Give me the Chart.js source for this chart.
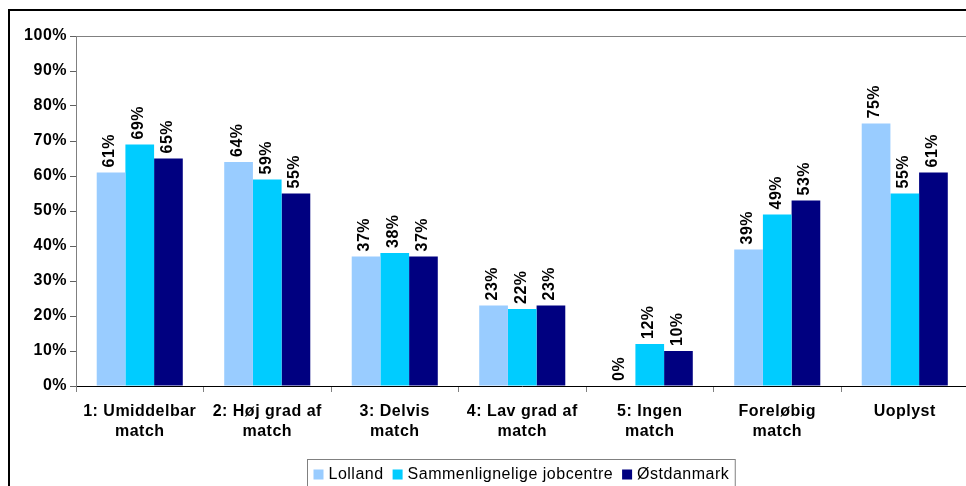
<!DOCTYPE html>
<html>
<head>
<meta charset="utf-8">
<script src="https://cdn.jsdelivr.net/npm/chart.js@4/dist/chart.umd.min.js"></script>
<style>
    html, body { margin: 0; padding: 0; background: #fff; overflow: hidden; }
    #wrap { position: absolute; left: 0; top: 0; width: 990px; height: 500px; }
</style>
</head>
<body>
<div id="wrap"><canvas id="matchChart" width="990" height="500"></canvas></div>
<script>
const categories = [
    ['1: Umiddelbar', 'match'],
    ['2: Høj grad af', 'match'],
    ['3: Delvis', 'match'],
    ['4: Lav grad af', 'match'],
    ['5: Ingen', 'match'],
    ['Foreløbig', 'match'],
    'Uoplyst'
];
const seriesNames = ['Lolland', 'Sammenlignelige jobcentre', 'Østdanmark'];
const lolland = [61, 64, 37, 23, 0, 39, 75];
const sammenlignelige = [69, 59, 38, 22, 12, 49, 55];
const oestdanmark = [65, 55, 37, 23, 10, 53, 61];
const seriesColors = ['#99CCFF', '#00CCFF', '#000080'];

const FONT = '"Liberation Sans", Arial, sans-serif';

// Excel renders the text a bit wider, so space the letters out a little
const spacingPlugin = {
    id: 'spacing',
    beforeUpdate(chart) { chart.ctx.letterSpacing = '0.5px'; },
    beforeDraw(chart) { chart.ctx.letterSpacing = '0.5px'; }
};

const framePlugin = {
    id: 'frame',
    afterDraw(chart) {
        const ctx = chart.ctx;
        const area = chart.chartArea;
        ctx.save();
        // plot area top border
        ctx.strokeStyle = '#808080';
        ctx.lineWidth = 1;
        ctx.beginPath();
        ctx.moveTo(area.left, area.top + 0.5);
        ctx.lineTo(chart.width, area.top + 0.5);
        ctx.stroke();
        // outer chart frame
        ctx.strokeStyle = '#000';
        ctx.lineWidth = 2;
        ctx.beginPath();
        ctx.moveTo(9, chart.height);
        ctx.lineTo(9, 10);
        ctx.lineTo(chart.width, 10);
        ctx.stroke();
        ctx.restore();
    }
};

const valueLabelPlugin = {
    id: 'valueLabels',
    afterDatasetsDraw(chart) {
        const ctx = chart.ctx;
        ctx.save();
        ctx.font = 'bold 16px ' + FONT;
        ctx.fillStyle = '#000';
        ctx.textAlign = 'left';
        ctx.textBaseline = 'middle';
        chart.data.datasets.forEach((ds, i) => {
            chart.getDatasetMeta(i).data.forEach((bar, j) => {
                ctx.save();
                ctx.translate(bar.x - 1, bar.y - 5);
                ctx.rotate(-Math.PI / 2);
                ctx.fillText(ds.data[j] + '%', 0, 0);
                ctx.restore();
            });
        });
        ctx.restore();
    }
};

const legendPlugin = {
    id: 'boxLegend',
    afterDraw(chart) {
        const ctx = chart.ctx;
        const area = chart.chartArea;
        ctx.save();
        ctx.font = '16px ' + FONT;
        const box = 10, gap = 5, itemGap = 9, pad = 6;
        const widths = chart.data.datasets.map(ds => ctx.measureText(ds.label).width);
        let total = pad * 2;
        widths.forEach((w, i) => { total += box + gap + w + (i < widths.length - 1 ? itemGap : 0); });
        const left = Math.round((area.left + area.right) / 2 - total / 2) - 0.5;
        const top = 459.5;
        ctx.strokeStyle = '#808080';
        ctx.lineWidth = 1;
        ctx.strokeRect(left, top, total, 32);
        let x = left + pad;
        const cy = top + 15;
        ctx.textBaseline = 'middle';
        chart.data.datasets.forEach((ds, i) => {
            ctx.fillStyle = ds.backgroundColor;
            ctx.fillRect(x, cy - 5, box, box);
            x += box + gap;
            ctx.fillStyle = '#000';
            ctx.fillText(ds.label, x, cy);
            x += widths[i] + itemGap;
        });
        ctx.restore();
    }
};

new Chart(document.getElementById('matchChart'), {
    type: 'bar',
    data: {
        labels: categories,
        datasets: [lolland, sammenlignelige, oestdanmark].map((values, i) => ({
            label: seriesNames[i],
            data: values,
            backgroundColor: seriesColors[i],
            borderWidth: 0,
            categoryPercentage: 0.675,
            barPercentage: 1
        }))
    },
    options: {
        responsive: false,
        animation: false,
        devicePixelRatio: 1,
        layout: { padding: { top: 36, right: 21.5, left: 0, bottom: 0 } },
        plugins: {
            legend: { display: false },
            tooltip: { enabled: false }
        },
        scales: {
            x: {
                afterFit(scale) { scale.height = 114; },
                grid: {
                    drawOnChartArea: false,
                    tickLength: 6,
                    color: '#808080'
                },
                border: { color: '#000', width: 1 },
                ticks: {
                    color: '#000',
                    padding: 9,
                    maxRotation: 0,
                    autoSkip: false,
                    font: { family: FONT, size: 16, weight: 'bold', lineHeight: 1.27 }
                }
            },
            y: {
                min: 0,
                max: 100,
                afterFit(scale) { scale.width = 76; },
                grid: {
                    drawOnChartArea: false,
                    tickLength: 6,
                    color: '#606060'
                },
                border: { color: '#808080', width: 1 },
                ticks: {
                    stepSize: 10,
                    color: '#000',
                    padding: 3,
                    callback: v => v + '%',
                    font: { family: FONT, size: 16, weight: 'bold' }
                }
            }
        }
    },
    plugins: [spacingPlugin, valueLabelPlugin, framePlugin, legendPlugin]
});
</script>
</body>
</html>
